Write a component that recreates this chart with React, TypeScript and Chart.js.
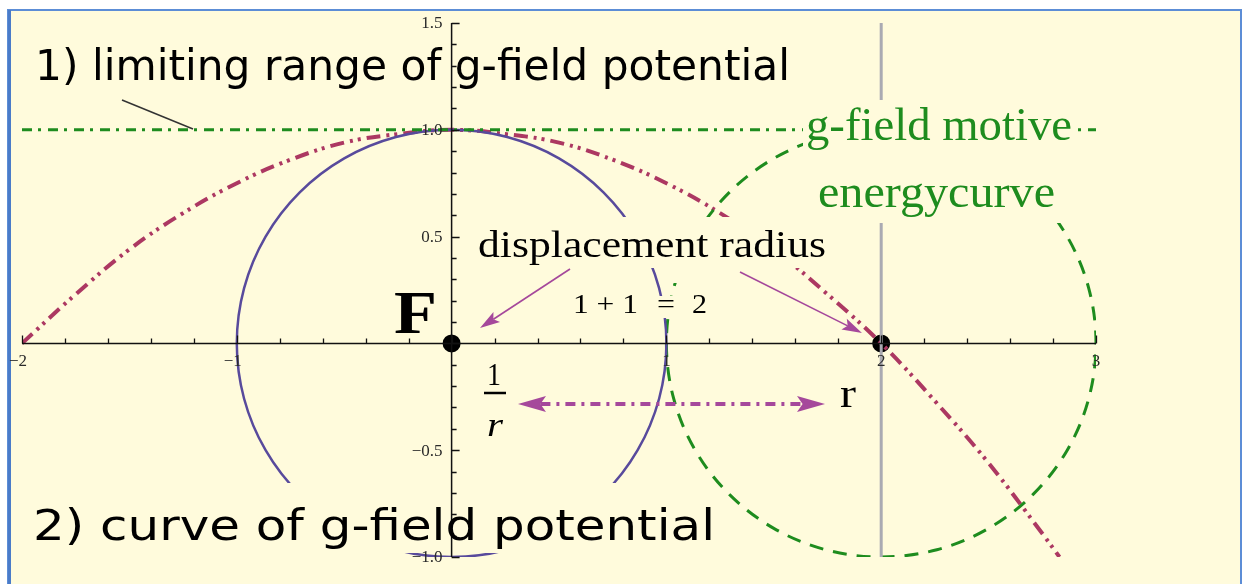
import React, { useEffect, useRef } from "react";
import { Chart, registerables } from "chart.js";

Chart.register(...registerables);

// ---------------- data ----------------
// curve of g-field potential (dash-dot-dot, maroon)
const potentialX = [-2, -1.75, -1.5, -1.25, -1, -0.75, -0.5, -0.25, 0, 0.25, 0.5, 0.75, 1, 1.25, 1.5, 1.75, 2, 2.25, 2.5, 2.75, 2.83];
const potentialY = [0, 0.23, 0.44, 0.61, 0.75, 0.86, 0.94, 0.98, 1, 0.98, 0.94, 0.86, 0.75, 0.61, 0.44, 0.23, 0, -0.27, -0.56, -0.89, -1.0];

// unit circle around F (solid, blue)
const circleX = [-0.5, -0.259, 0, 0.259, 0.5, 0.707, 0.866, 0.966, 1, 0.966, 0.866, 0.707, 0.5, 0.259, 0, -0.259, -0.5, -0.707, -0.866, -0.966, -1, -0.966, -0.866, -0.707, -0.5];
const circleY = [-0.866, -0.966, -1, -0.966, -0.866, -0.707, -0.5, -0.259, 0, 0.259, 0.5, 0.707, 0.866, 0.966, 1, 0.966, 0.866, 0.707, 0.5, 0.259, 0, -0.259, -0.5, -0.707, -0.866];

// g-field motive energy curve (dashed, green)
const motiveX = [2, 1.741, 1.5, 1.293, 1.134, 1.034, 1, 1.034, 1.134, 1.293, 1.5, 1.741, 2, 2.259, 2.5, 2.707, 2.866, 2.966, 3, 2.966, 2.866, 2.707, 2.5, 2.259, 2];
const motiveY = [1, 0.966, 0.866, 0.707, 0.5, 0.259, 0, -0.259, -0.5, -0.707, -0.866, -0.966, -1, -0.966, -0.866, -0.707, -0.5, -0.259, 0, 0.259, 0.5, 0.707, 0.866, 0.966, 1];

// limiting range (dash-dot, green)
const limitX = [-2, 3];
const limitY = [1, 1];

// vertical marker at r = 2 (grey)
const markerX = [2, 2];
const markerY = [1.5, -1];

// black points F and r = 2
const pointX = [0, 2];
const pointY = [0, 0];

// axis ticks
const xTickValues = [-2, -1, 1, 2, 3];
const xTickLabels = ["\u22122", "\u22121", "1", "2", "3"];
const yTickValues = [-1, -0.5, 0.5, 1, 1.5];
const yTickLabels = ["\u22121.0", "\u22120.5", "0.5", "1.0", "1.5"];

const xy = (xs: number[], ys: number[]) => xs.map((x, i) => ({ x, y: ys[i] }));

const BG = "#FFFBDC";
const GREEN = "#1E8C1E";
const MAROON = "rgb(172,56,98)";
const BLUE = "rgb(88,74,156)";
const MAGENTA = "rgb(165,72,155)";

function drawFit(ctx: CanvasRenderingContext2D, text: string, font: string, x: number, baseline: number, width: number, color: string) {
  ctx.save();
  ctx.font = font;
  ctx.fillStyle = color;
  ctx.textAlign = "left";
  ctx.textBaseline = "alphabetic";
  const w = ctx.measureText(text).width || 1;
  ctx.translate(x, baseline);
  ctx.scale(width / w, 1);
  ctx.fillText(text, 0, 0);
  ctx.restore();
}

function head(ctx: CanvasRenderingContext2D, tx: number, ty: number, ang: number, len: number, half: number, color: string) {
  ctx.save();
  ctx.fillStyle = color;
  ctx.translate(tx, ty);
  ctx.rotate(ang);
  ctx.beginPath();
  ctx.moveTo(0, 0);
  ctx.lineTo(-len, -half);
  ctx.lineTo(-len * 0.8, 0);
  ctx.lineTo(-len, half);
  ctx.closePath();
  ctx.fill();
  ctx.restore();
}

function arrow(ctx: CanvasRenderingContext2D, x1: number, y1: number, x2: number, y2: number, color: string, lw: number, len: number, half: number, dash: number[] = [], both = false) {
  const ang = Math.atan2(y2 - y1, x2 - x1);
  const c = Math.cos(ang), s = Math.sin(ang);
  const sx = both ? x1 + c * len * 0.8 : x1;
  const sy = both ? y1 + s * len * 0.8 : y1;
  const ex = x2 - c * len * 0.8, ey = y2 - s * len * 0.8;
  ctx.save();
  ctx.strokeStyle = color;
  ctx.lineWidth = lw;
  ctx.setLineDash(dash);
  ctx.beginPath();
  ctx.moveTo(sx, sy);
  ctx.lineTo(ex, ey);
  ctx.stroke();
  ctx.restore();
  head(ctx, x2, y2, ang, len, half, color);
  if (both) head(ctx, x1, y1, ang + Math.PI, len, half, color);
}

const overlay = {
  id: "overlay",
  beforeDraw(chart: any) {
    const ctx: CanvasRenderingContext2D = chart.ctx;
    ctx.save();
    ctx.fillStyle = "#ffffff";
    ctx.fillRect(0, 0, chart.width, chart.height);
    ctx.fillStyle = BG;
    ctx.fillRect(9, 10, 1231, 574);
    ctx.strokeStyle = "#5C8DD6";
    ctx.lineWidth = 2;
    ctx.beginPath();
    ctx.moveTo(8, 584);
    ctx.lineTo(8, 10);
    ctx.lineTo(1241, 10);
    ctx.lineTo(1241, 584);
    ctx.stroke();
    ctx.fillStyle = "#4A7BC8";
    ctx.fillRect(8, 10, 3, 574);
    ctx.restore();
  },
  afterDatasetsDraw(chart: any) {
    const ctx: CanvasRenderingContext2D = chart.ctx;
    const xs = chart.scales.x;
    const ys = chart.scales.y;
    const px = (v: number) => xs.getPixelForValue(v);
    const py = (v: number) => ys.getPixelForValue(v);

    // label backgrounds that hide parts of the curves
    ctx.save();
    ctx.fillStyle = BG;
    const masks = [
      [30, 483, 684, 70],
      [470, 217, 360, 51],
      [668, 266, 25, 17],
      [570, 296, 142, 22],
      [803, 100, 274, 123],
    ];
    masks.forEach(([x, y, w, h]) => ctx.fillRect(x, y, w, h));
    ctx.restore();

    // axes
    ctx.save();
    ctx.strokeStyle = "#111";
    ctx.lineWidth = 1.5;
    const x0 = px(0), y0 = py(0);
    ctx.beginPath();
    ctx.moveTo(px(-2), y0);
    ctx.lineTo(px(3), y0);
    ctx.moveTo(x0, py(-1));
    ctx.lineTo(x0, py(1.5));
    ctx.stroke();
    ctx.lineWidth = 1.3;
    ctx.beginPath();
    for (let i = -10; i <= 15; i++) {
      const v = i / 5;
      const major = i % 5 === 0;
      const p = Math.round(px(v)) + 0.5;
      ctx.moveTo(p, y0);
      ctx.lineTo(p, y0 - (major ? 8 : 5));
    }
    for (let i = -10; i <= 15; i++) {
      const v = i / 10;
      const major = i % 5 === 0;
      const p = Math.round(py(v)) + 0.5;
      ctx.moveTo(x0, p);
      ctx.lineTo(x0 + (major ? 8 : 5), p);
    }
    ctx.stroke();
    ctx.fillStyle = "#2a2a2a";
    ctx.font = "17px 'Liberation Serif', serif";
    ctx.textBaseline = "middle";
    ctx.textAlign = "center";
    xTickValues.forEach((v, i) => ctx.fillText(xTickLabels[i], px(v) - (v < 0 ? 4 : 0), y0 + 18));
    ctx.textAlign = "right";
    yTickValues.forEach((v, i) => ctx.fillText(yTickLabels[i], x0 - 9, py(v) + 1));
    ctx.restore();

    // pointer line for label 1
    ctx.save();
    ctx.strokeStyle = "#333";
    ctx.lineWidth = 1.5;
    ctx.beginPath();
    ctx.moveTo(122, 100);
    ctx.lineTo(193, 129);
    ctx.stroke();
    ctx.restore();

    // arrows
    arrow(ctx, 570, 269, 480, 328, MAGENTA, 1.6, 20, 6);
    arrow(ctx, 740, 272, 862, 333, MAGENTA, 1.6, 20, 6);
    arrow(ctx, 518, 404, 825, 404, MAGENTA, 4, 28, 8, [10, 6, 3, 6], true);

    // texts
    const comic = "42px 'DejaVu Sans', sans-serif";
    drawFit(ctx, "1) limiting range of g-field potential", comic, 35, 80, 755, "#000");
    drawFit(ctx, "2) curve of g-field potential", comic, 33, 540, 682, "#000");
    const serif = (s: number) => `${s}px 'Liberation Serif', serif`;
    drawFit(ctx, "g-field motive", serif(46), 806, 140, 266, GREEN);
    drawFit(ctx, "energycurve", serif(46), 818, 207, 237, GREEN);
    drawFit(ctx, "displacement radius", serif(38), 478, 257, 348, "#000");
    drawFit(ctx, "1 + 1", serif(27), 573, 313, 65, "#000");
    drawFit(ctx, "=", serif(27), 657, 313, 18, "#000");
    drawFit(ctx, "2", serif(27), 692, 313, 15, "#000");
    drawFit(ctx, "F", `bold ${serif(62)}`, 394, 333, 43, "#000");
    drawFit(ctx, "1", serif(32), 487, 385, 14, "#000");
    ctx.save();
    ctx.strokeStyle = "#000";
    ctx.lineWidth = 2.5;
    ctx.beginPath();
    ctx.moveTo(484, 393);
    ctx.lineTo(506, 393);
    ctx.stroke();
    ctx.restore();
    drawFit(ctx, "r", `italic ${serif(34)}`, 487, 436, 16, "#000");
    drawFit(ctx, "r", serif(40), 840, 407, 16, "#000");
  },
};

export default function App() {
  const ref = useRef<HTMLCanvasElement>(null);
  useEffect(() => {
    if (!ref.current) return;
    const chart = new Chart(ref.current, {
      type: "line",
      data: {
        datasets: [
          {
            data: xy(markerX, markerY),
            borderColor: "rgb(170,170,178)",
            borderWidth: 3,
            pointRadius: 0,
            tension: 0,
          },
          {
            data: xy(limitX, limitY),
            borderColor: GREEN,
            borderWidth: 3,
            borderDash: [10, 6, 3, 7],
            pointRadius: 0,
            tension: 0,
          },
          {
            data: xy(circleX, circleY),
            borderColor: BLUE,
            borderWidth: 2.5,
            pointRadius: 0,
            tension: 0.34,
          },
          {
            data: xy(motiveX, motiveY),
            borderColor: GREEN,
            borderWidth: 3,
            borderDash: [14, 10],
            pointRadius: 0,
            tension: 0.34,
          },
          {
            data: xy(potentialX, potentialY),
            borderColor: MAROON,
            borderWidth: 4,
            borderDash: [14, 6, 3, 5, 3, 6],
            pointRadius: 0,
            tension: 0.4,
          },
          {
            data: xy(pointX, pointY),
            showLine: false,
            pointRadius: 9,
            pointBackgroundColor: "#000",
            pointBorderColor: "#000",
            pointBorderWidth: 0,
          },
        ],
      } as any,
      options: {
        animation: false,
        responsive: false,
        devicePixelRatio: 1,
        layout: { padding: { left: 22, right: 147, top: 23, bottom: 27 } },
        scales: {
          x: { type: "linear", min: -2, max: 3, display: false },
          y: { type: "linear", min: -1, max: 1.5, display: false },
        },
        plugins: { legend: { display: false }, tooltip: { enabled: false } },
        elements: { line: { capBezierPoints: true } },
      } as any,
      plugins: [overlay],
    });
    return () => chart.destroy();
  }, []);
  return (
    <div style={{ position: "fixed", left: 0, top: 0, width: 1243, height: 584 }}>
      <canvas ref={ref} width={1243} height={584} style={{ display: "block" }} />
    </div>
  );
}
